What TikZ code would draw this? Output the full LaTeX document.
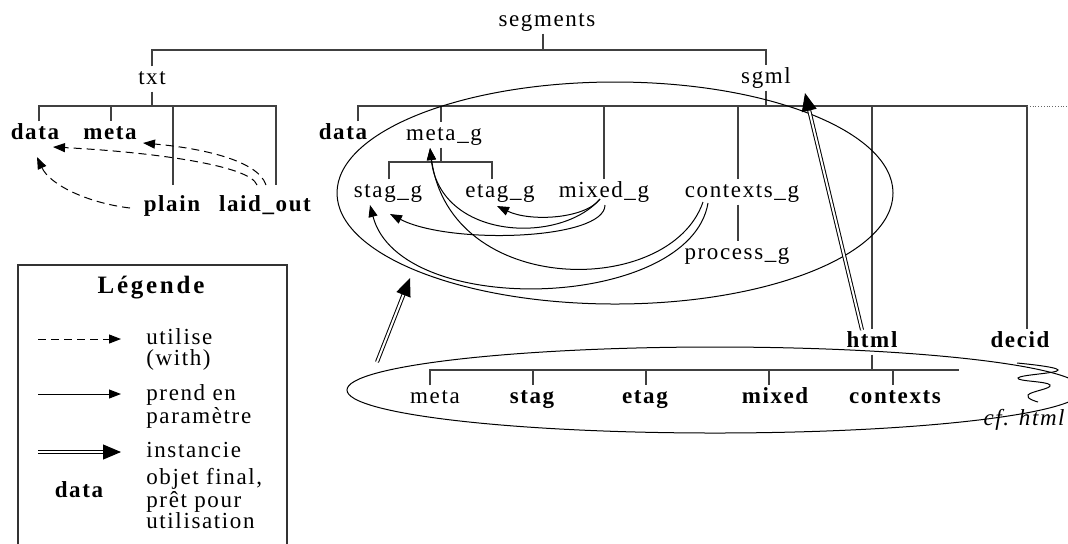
\documentclass[tikz,border=0pt]{standalone}
\usepackage{fontspec}
\setmainfont{Liberation Serif}[LetterSpace=7]
\usetikzlibrary{arrows.meta,calc}
\begin{document}
\begin{tikzpicture}[x=0.5pt,y=-0.5pt,
  lab/.style={inner sep=1pt,text height=8pt,text depth=2.3pt,font=\fontsize{11.5}{13.5}\selectfont},
  bl/.style={lab,font=\fontsize{11.5}{13.5}\selectfont\bfseries},
  itl/.style={lab,font=\fontsize{11.5}{13.5}\selectfont\itshape},
  lt/.style={lab,anchor=base west},
  tree/.style={line width=0.75pt,draw=black!75},
  thin/.style={line width=0.5pt},
  uses/.style={thin,dash pattern=on 4pt off 2.5pt,-{Triangle[length=6pt,width=4.5pt]}},
  param/.style={thin,-{Triangle[length=6pt,width=4.5pt]}},
  dbl/.style={double,double distance=1pt,line width=0.5pt,shorten >=8pt},
  dtip/.style={line width=0.5pt,-{Triangle[length=9pt,width=7.5pt]}}]
\useasboundingbox (0,0) rectangle (1068,543);
\clip (0,0) rectangle (1068,543);

% ---- nodes
\node[lab] (seg) at (547,21) {segments};
\node[lab] (txt) at (152,79) {txt};
\node[lab] (sgml) at (766,78) {sgml};
\node[bl] (tdata) at (35,134) {data};
\node[bl] (tmeta) at (110,134) {meta};
\node[bl] (plain) at (172,206) {plain};
\node[bl] (laid) at (265,206) {laid\_out};
\node[bl] (sdata) at (343,134) {data};
\node[lab] (metag) at (444,135) {meta\_g};
\node[lab] (stagg) at (388,192) {stag\_g};
\node[lab] (etagg) at (500,192) {etag\_g};
\node[lab] (mixedg) at (604,192) {mixed\_g};
\node[lab] (ctxg) at (742,192) {contexts\_g};
\node[lab] (procg) at (737,254) {process\_g};
\node[bl] (html) at (872,342) {html};
\node[bl] (decid) at (1020,342) {decid};
\node[lab] (hmeta) at (435,398) {meta};
\node[bl] (hstag) at (532,398) {stag};
\node[bl] (hetag) at (645,398) {etag};
\node[bl] (hmixed) at (775,398) {mixed};
\node[bl] (hctx) at (895,398) {contexts};
\node[itl,anchor=base east] (cf) at (1067,425) {cf. html};

% ---- tree: segments
\coordinate (b0) at (543,50);
\draw[tree] (seg.south -| b0) -- (b0);
\draw[tree] (txt.north) |- (b0) -| (sgml.north);
% txt
\coordinate (b1) at (152,106);
\coordinate (t1) at (39,106);
\coordinate (t2) at (111,106);
\coordinate (t3) at (173,106);
\coordinate (t4) at (276,106);
\coordinate (lTop) at ($(plain.north)+(0,-8)$);
\draw[tree] (txt.south) -- (b1);
\draw[tree] (t1 |- tdata.north) -- (t1) -- (t4) -- (t4 |- lTop);
\draw[tree] (t2) -- (t2 |- tmeta.north);
\draw[tree] (t3) -- (t3 |- lTop);
% sgml
\coordinate (s0) at (769,106);
\coordinate (s1) at (358,106);
\coordinate (s2) at (441,106);
\coordinate (s3) at (604,106);
\coordinate (s4) at (738,106);
\coordinate (s5) at (872,106);
\coordinate (s6) at (1027,106);
\coordinate (s7) at (1068,106);
\draw[tree] (sgml.south) -- (sgml.south |- s0);
\draw[tree] (s1 |- sdata.north) -- (s1) -- (s6) -- (s6 |- decid.north);
\draw[densely dotted,black!60,line width=0.4pt] (s6) -- (s7);
\draw[tree] (s2) -- (s2 |- metag.north);
\draw[tree] (s3) -- (s3 |- mixedg.north);
\draw[tree] (s4) -- (s4 |- ctxg.north);
\draw[tree] (s5) -- (s5 |- html.north);
\draw[tree] (ctxg.south -| s4) -- (procg.north -| s4);
% meta_g
\coordinate (m0) at (441,162);
\coordinate (m1) at (389,162);
\coordinate (m2) at (492,162);
\draw[tree] (metag.south -| m0) -- (m0);
\draw[tree] (m1 |- stagg.north) -- (m1) -- (m2) -- (m2 |- etagg.north);
% html
\coordinate (h0) at (872,370);
\coordinate (h1) at (430,370);
\coordinate (h2) at (533,370);
\coordinate (h3) at (646,370);
\coordinate (h4) at (769,370);
\coordinate (h5) at (893,370);
\coordinate (h6) at (959,370);
\draw[tree] (html.south) -- (html.south |- h0);
\draw[tree] (h1 |- hmeta.north) -- (h1) -- (h6);
\draw[tree] (h2) -- (h2 |- hstag.north);
\draw[tree] (h3) -- (h3 |- hetag.north);
\draw[tree] (h4) -- (h4 |- hmixed.north);
\draw[tree] (h5) -- (h5 |- hctx.north);

% ---- ellipses and squiggle
\draw[thin] (615,193) ellipse [x radius=278, y radius=111];
\draw[thin] (715,390) ellipse [x radius=368, y radius=43];
\draw[thin] plot[smooth,tension=0.8] coordinates {(1017,363) (1058,370) (1018,378) (1050,385) (1028,395) (1038,402)};

% ---- dashed arrows (utilise)
\draw[uses] ($(laid)+(1,-21)$) .. controls +(-8,-25) and +(57,5) .. ($(tmeta)+(33,9)$);
\draw[uses] ($(laid)+(-8,-21)$) .. controls +(-7,-20) and +(97,5) .. ($(tdata)+(18,13)$);
\draw[uses] ($(plain)+(-42,2)$) .. controls +(-42,-5) and +(13,28) .. ($(tdata)+(2,23)$);

% ---- solid arrows (prend en parametre)
\draw[param] ($(mixedg)+(-4,7)$) .. controls +(-15,20) and +(33,16) .. ($(etagg)+(-3,14)$);
\draw[param] ($(mixedg)+(-4,7)$) .. controls +(-40,46) and +(10,92) .. ($(metag)+(-14,13)$);
\draw[param] ($(mixedg)+(1,13)$) .. controls +(0,35) and +(60,31) .. ($(stagg)+(2,22)$);
\draw[param] ($(ctxg)+(-39,10)$) .. controls +(-33,96) and +(20,150) .. ($(metag)+(-14,13)$);
\draw[param] ($(ctxg)+(-34,11)$) .. controls +(-18,107) and +(30,115) .. ($(stagg)+(-18,13)$);

% ---- double arrows (instancie)
\coordinate (hA) at ($(html)+(-10,-12)$);
\coordinate (sA) at ($(sgml)+(39,15)$);
\draw[dbl] (hA) -- (sA);
\draw[dtip] ($(sA)!9pt!(hA)$) -- (sA);
\coordinate (gA) at (377,362);
\coordinate (gB) at (410,278);
\draw[dbl] (gA) -- (gB);
\draw[dtip] ($(gB)!9pt!(gA)$) -- (gB);

% ---- legend
\draw[line width=0.6pt,draw=black!80] (18,265) rectangle (287,560);
\node[bl,font=\fontsize{12.5}{14}\selectfont\bfseries\addfontfeature{LetterSpace=11}] (legt) at (151,288) {Légende};
\coordinate (la1) at (38,339); \coordinate (la2) at (121,339);
\coordinate (lb1) at (38,394); \coordinate (lb2) at (121,394);
\coordinate (lc1) at (38,452); \coordinate (lc2) at (121,452);
\draw[uses] (la1) -- (la2);
\draw[param] (lb1) -- (lb2);
\draw[dbl] (lc1) -- (lc2);
\draw[dtip] ($(lc2)!9pt!(lc1)$) -- (lc2);
\node[lt] (lt1) at (144,344) {utilise};
\node[lt] (lt2) at (144,365) {(with)};
\node[lt] (lt3) at (144,400) {prend en};
\node[lt] (lt4) at (144,423) {paramètre};
\node[lt] (lt5) at (144,457) {instancie};
\node[bl] (ldata) at (79,492) {data};
\node[lt] (lt6) at (144,484) {objet final,};
\node[lt] (lt7) at (144,507) {prêt pour};
\node[lt] (lt8) at (144,528) {utilisation};
\end{tikzpicture}
\end{document}
